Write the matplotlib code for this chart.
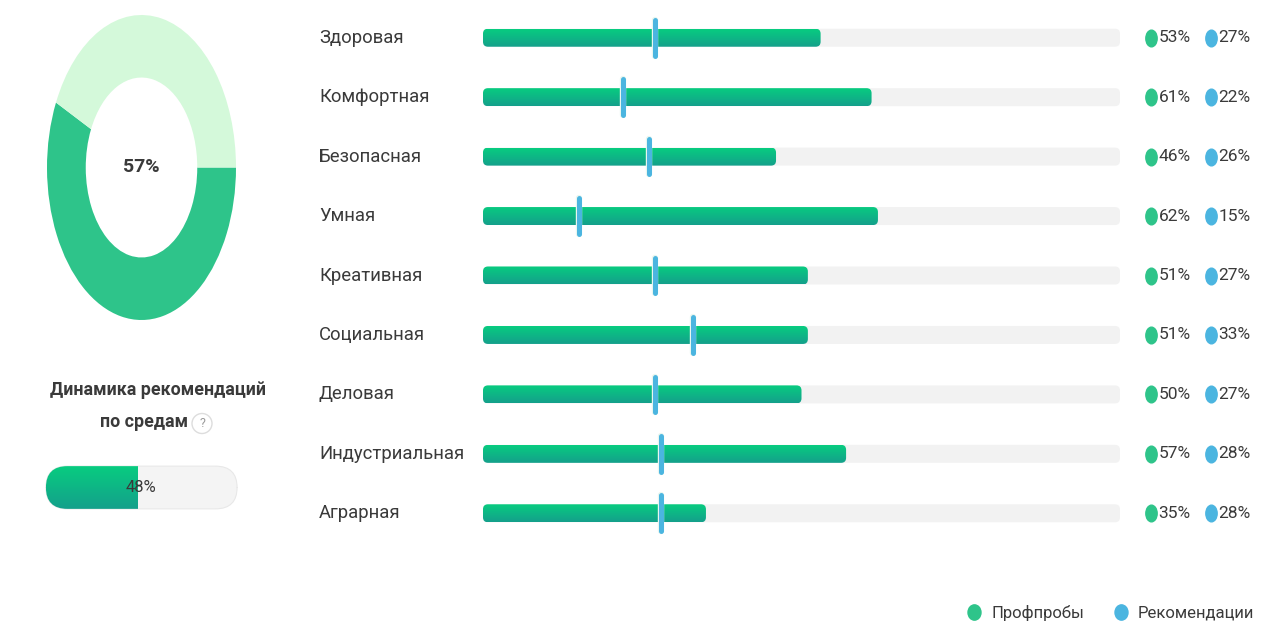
import numpy as np
import matplotlib
matplotlib.use("Agg")
from matplotlib import pyplot as plt
from matplotlib.patches import FancyBboxPatch, Circle
from matplotlib.colors import LinearSegmentedColormap
from matplotlib.path import Path
from matplotlib.lines import Line2D

plt.rcParams['font.family'] = ['Roboto', 'DejaVu Sans']

# data
categories = ['Здоровая', 'Комфортная', 'Безопасная', 'Умная', 'Креативная',
              'Социальная', 'Деловая', 'Индустриальная', 'Аграрная']
profprob = [53, 61, 46, 62, 51, 51, 50, 57, 35]
recom = [27, 22, 26, 15, 27, 33, 27, 28, 28]
donut_value = 57
dynamics_value = 48
title_lines = ['Динамика рекомендаций', 'по средам']
legend_labels = ['Профпробы', 'Рекомендации']

GREEN = '#2ec48a'
LIGHT_GREEN = '#d4f9da'
BLUE = '#4bb5e0'
TRACK = '#f2f2f2'
TEXT = '#3a3a3a'
grad_cmap = LinearSegmentedColormap.from_list('g', ['#08cc80', '#14a08b'])
gradient = np.linspace(0, 1, 64).reshape(-1, 1)

W, H = 1272, 629
fig = plt.figure(figsize=(W / 100, H / 100), dpi=100)


def fig_rect(x0, y0, x1, y1):
    # pixel box (top-left origin) -> figure fraction rect
    return [x0 / W, 1 - y1 / H, (x1 - x0) / W, (y1 - y0) / H]


def ellipse_marker(sx=0.68):
    c = Path.unit_circle()
    return Path(c.vertices * [sx, 1.0], c.codes)


# ---------- donut ----------
ax_d = fig.add_axes(fig_rect(47, 15, 236, 320))
ax_d.pie([donut_value, 100 - donut_value], colors=[GREEN, LIGHT_GREEN],
         startangle=0, counterclock=False, radius=1,
         wedgeprops=dict(width=0.41, linewidth=0))
ax_d.set_aspect('auto')
ax_d.set_xlim(-1, 1)
ax_d.set_ylim(-1, 1)
ax_d.axis('off')
ax_d.text(0, 0, f'{donut_value}%', ha='center', va='center', fontsize=14,
          fontweight='bold', color=TEXT)

# ---------- title ----------
fig.text(158 / W, 1 - 390 / H, title_lines[0], ha='center', va='center',
         fontsize=12.8, fontweight='bold', color=TEXT)
fig.text(188 / W, 1 - 422 / H, title_lines[1], ha='right', va='center',
         fontsize=12.8, fontweight='bold', color=TEXT)
ax_q = fig.add_axes(fig_rect(190, 410, 214, 437))
ax_q.set_xlim(-1.2, 1.2)
ax_q.set_ylim(-1.2, 1.2)
ax_q.set_aspect('equal')
ax_q.axis('off')
ax_q.add_patch(Circle((0, 0), 1, facecolor='white', edgecolor='#dddddd', lw=1))
ax_q.text(0, 0, '?', ha='center', va='center', fontsize=9, color='#999999')

# ---------- small progress bar ----------
ax_p = fig.add_axes(fig_rect(44, 464, 239, 511))
ax_p.set_xlim(-1, 101)
ax_p.set_ylim(-0.05, 1.05)
ax_p.axis('off')
bb = ax_p.get_position()
px_x = (bb.width * W) / 102
px_y = (bb.height * H) / 1.1
asp = (1 / px_y) / (1 / px_x)
track = FancyBboxPatch((0, 0), 100, 1, boxstyle='round,pad=0,rounding_size=%f' % (21.5 / px_x),
                       mutation_aspect=asp, facecolor='#f4f4f4', edgecolor='#e8e8e8', lw=0.8)
ax_p.add_patch(track)
im = ax_p.imshow(gradient, cmap=grad_cmap, extent=(0, dynamics_value, 0, 1),
                 aspect='auto', origin='upper', interpolation='bilinear', zorder=2)
im.set_clip_path(track)
ax_p.set_xlim(-1, 101)
ax_p.set_ylim(-0.05, 1.05)
ax_p.text(50, 0.5, f'{dynamics_value}%', ha='center', va='center', fontsize=12,
          color=TEXT, zorder=3)

# ---------- horizontal bars ----------
ax = fig.add_axes(fig_rect(483, 8, 1120, 543))
n = len(categories)
ax.set_xlim(0, 100)
ax.set_ylim(n - 0.5, -0.5)
ax.axis('off')
bb = ax.get_position()
px_x = (bb.width * W) / 100
px_y = (bb.height * H) / n
asp = (1 / px_y) / (1 / px_x)
bh = 18 / px_y
rs = 5 / px_x

for i, (cat, p, r) in enumerate(zip(categories, profprob, recom)):
    tr = FancyBboxPatch((0, i - bh / 2), 100, bh,
                        boxstyle='round,pad=0,rounding_size=%f' % rs,
                        mutation_aspect=asp, facecolor=TRACK, edgecolor='none', zorder=1)
    ax.add_patch(tr)
    bar = FancyBboxPatch((0, i - bh / 2), p, bh,
                         boxstyle='round,pad=0,rounding_size=%f' % rs,
                         mutation_aspect=asp, facecolor='none', edgecolor='none', zorder=1)
    ax.add_patch(bar)
    im = ax.imshow(gradient, cmap=grad_cmap, extent=(0, p, i + bh / 2, i - bh / 2),
                   aspect='auto', origin='upper', interpolation='bilinear', zorder=2)
    im.set_clip_path(bar)
    # recommendation marker
    ax.plot([r, r], [i - 0.3, i + 0.3], color='#e8f6f0', lw=4.6,
            solid_capstyle='round', zorder=4)
    ax.plot([r, r], [i - 0.3, i + 0.3], color=BLUE, lw=3.6,
            solid_capstyle='round', zorder=5)

    yt = ax.get_yaxis_transform()
    ax.text(-0.2575, i, cat, transform=yt, ha='left', va='center',
            fontsize=13.3, color=TEXT)
    ax.plot([1.0487], [i], transform=yt, marker=ellipse_marker(), ms=12,
            color=GREEN, clip_on=False, ls='none')
    ax.text(1.0605, i, f'{p}%', transform=yt, ha='left', va='center',
            fontsize=12.5, color=TEXT)
    ax.plot([1.1429], [i], transform=yt, marker=ellipse_marker(), ms=12,
            color=BLUE, clip_on=False, ls='none')
    ax.text(1.1545, i, f'{r}%', transform=yt, ha='left', va='center',
            fontsize=12.5, color=TEXT)

ax.set_xlim(0, 100)
ax.set_ylim(n - 0.5, -0.5)

# ---------- legend ----------
handles = [Line2D([], [], ls='none', marker=ellipse_marker(0.85), ms=11, color=GREEN),
           Line2D([], [], ls='none', marker=ellipse_marker(0.85), ms=11, color=BLUE)]
fig.legend(handles, legend_labels, loc='center right',
           bbox_to_anchor=(1262 / W, 1 - 613 / H), ncol=2, frameon=False,
           fontsize=12, handlelength=1.0, handletextpad=0.5,
           columnspacing=1.7, borderpad=0, labelcolor=TEXT)

fig.savefig('out.png', dpi=100, facecolor='white')
